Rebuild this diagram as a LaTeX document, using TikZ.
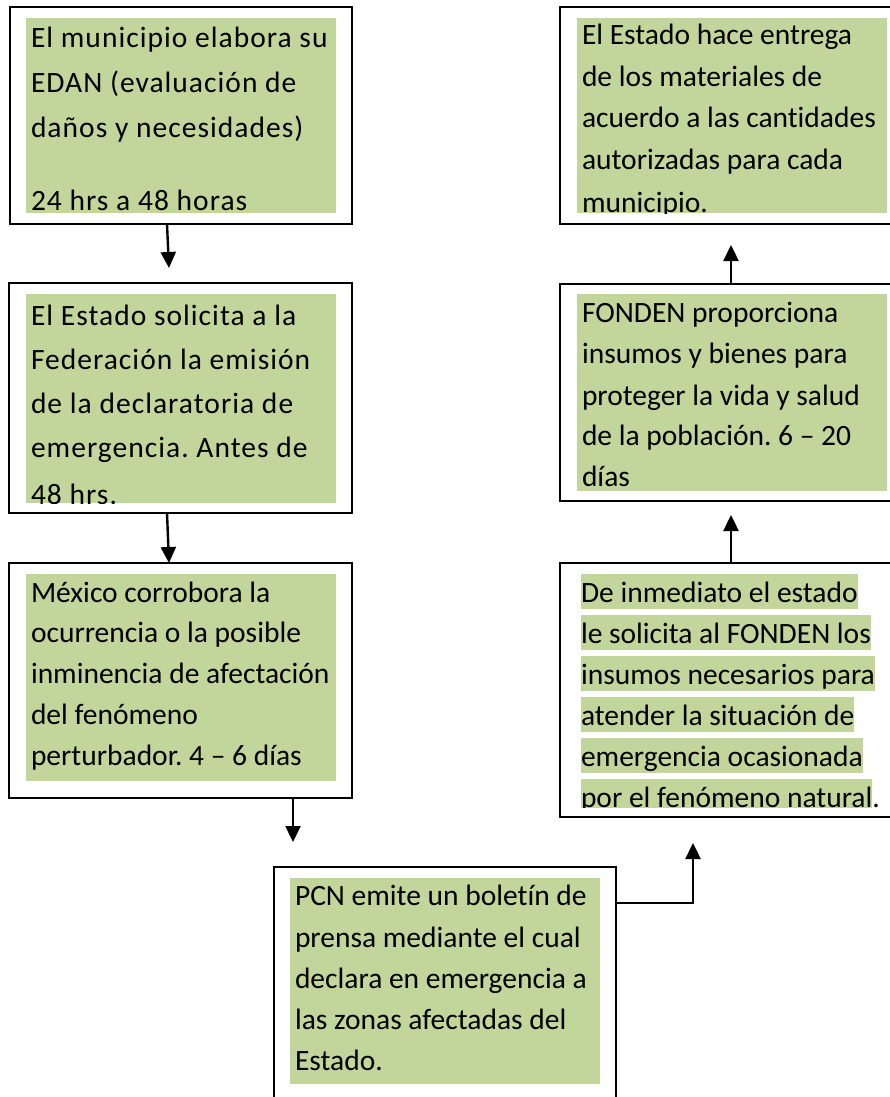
\documentclass[tikz,border=0pt]{standalone}
\usepackage{fontspec}
\setmainfont{Carlito}[Ligatures=NoCommon]
\newfontfamily\widefont{Carlito}[Ligatures=NoCommon,LetterSpace=3.5]
\usetikzlibrary{arrows.meta}
\definecolor{olive}{HTML}{C2D69B}
\frenchspacing
\tikzset{
  box/.style={draw=black, line width=2.4pt, anchor=north west, inner sep=0pt, outer sep=0pt},
  txt/.style={anchor=base west, inner sep=0pt, outer sep=0pt, font=\fontsize{29.5pt}{34pt}\selectfont\frenchspacing},
  wtxt/.style={txt, font=\widefont\fontsize{29.5pt}{34pt}\selectfont\frenchspacing},
  hl/.style={txt, fill=olive, text height=28pt, text depth=7pt},
  arr/.style={line width=2.4pt, -{Triangle[length=16pt,width=15pt]}},
}
\begin{document}
\begin{tikzpicture}[x=1pt,y=-1pt]
\useasboundingbox (0,0) rectangle (890,1097);
\clip (0,0) rectangle (890,1097);
\fill[white] (0,0) rectangle (890,1097);

% ---------- box 1
\node[box, minimum width=342pt, minimum height=217pt] (b1) at (10,7) {};
\fill[olive] (26,18) rectangle (336,213);
\node[wtxt] (b1l1) at (31,48) {El municipio elabora su};
\node[wtxt] (b1l2) at (31,93) {EDAN (evaluación de};
\node[wtxt] (b1l3) at (31,138) {daños y necesidades)};
\node[wtxt] (b1l4) at (31,210) {24 hrs a 48 horas};

% ---------- box 2
\node[box, minimum width=343pt, minimum height=230pt] (b2) at (9,283) {};
\fill[olive] (26,294) rectangle (336,503);
\begin{scope}
\clip (20,290) rectangle (340,503);
\node[wtxt] (b2l1) at (31,325) {El Estado solicita a la};
\node[wtxt] (b2l2) at (31,369) {Federación la emisión};
\node[wtxt] (b2l3) at (31,413) {de la declaratoria de};
\node[wtxt] (b2l4) at (31,457) {emergencia. Antes de};
\node[wtxt] (b2l5) at (31,504) {48 hrs.};
\end{scope}

% ---------- box 3
\node[box, minimum width=343pt, minimum height=235pt] (b3) at (9,563) {};
\fill[olive] (26,574) rectangle (336,781);
\node[txt] (b3l1) at (31,602) {México corrobora la};
\node[txt] (b3l2) at (31,642) {ocurrencia o la posible};
\node[txt] (b3l3) at (31,683) {inminencia de afectación};
\node[txt] (b3l4) at (31,724) {del fenómeno};
\node[txt] (b3l5) at (31,765) {perturbador. 4 – 6 días};

% ---------- box 4
\node[box, minimum width=345pt, minimum height=217pt] (b4) at (560,7) {};
\fill[olive] (577,18) rectangle (887,213);
\begin{scope}
\clip (570,15) rectangle (890,213);
\node[txt] (b4l1) at (582,45) {El Estado hace entrega};
\node[txt] (b4l2) at (582,87) {de los materiales de};
\node[txt] (b4l3) at (582,128) {acuerdo a las cantidades};
\node[txt] (b4l4) at (582,169) {autorizadas para cada};
\node[txt] (b4l5) at (582,212) {municipio.};
\end{scope}

% ---------- box 5
\node[box, minimum width=345pt, minimum height=217pt] (b5) at (560,284) {};
\fill[olive] (577,294) rectangle (887,491);
\node[txt] (b5l1) at (582,322) {FONDEN proporciona};
\node[txt] (b5l2) at (582,363) {insumos y bienes para};
\node[txt] (b5l3) at (582,405) {proteger la vida y salud};
\node[txt] (b5l4) at (582,445) {de la población. 6 – 20};
\node[txt] (b5l5) at (582,486) {días};

% ---------- box 6
\node[box, minimum width=345pt, minimum height=254pt] (b6) at (560,563) {};
\begin{scope}
\clip (565,568) rectangle (890,807.5);
\node[hl] (b6l1) at (581,602) {De inmediato el estado};
\node[hl] (b6l2) at (581,643) {le solicita al FONDEN los};
\node[hl] (b6l3) at (581,684) {insumos necesarios para};
\node[hl] (b6l4) at (581,725) {atender la situación de};
\node[hl] (b6l5) at (581,766) {emergencia ocasionada};
\node[hl] (b6l6) at (581,807) {por el fenómeno natural};
\node[txt, anchor=base west] (b6dot) at (b6l6.base east) {.};
\end{scope}

% ---------- box 7 (PCN)
\node[box, minimum width=342pt, minimum height=243pt] (b7) at (274,867) {};
\fill[olive] (290,878) rectangle (600,1084);
\node[txt] (b7l1) at (295,905) {PCN emite un boletín de};
\node[txt] (b7l2) at (295,947) {prensa mediante el cual};
\node[txt] (b7l3) at (295,988) {declara en emergencia a};
\node[txt] (b7l4) at (295,1029) {las zonas afectadas del};
\node[txt] (b7l5) at (295,1070) {Estado.};

% ---------- connectors
\coordinate (t1) at (169,268);
\coordinate (t3) at (293,842);
\coordinate (t4) at (693,843);
\coordinate (t5) at (731,515);
\coordinate (t6) at (731,245);
\draw[arr] ([xshift=-14pt]b1.south) -- (t1);
\draw[arr] ([xshift=-13.5pt]b2.south) -- ([xshift=-11.5pt]b3.north);
\draw[arr] ([xshift=112.5pt]b3.south) -- (t3);
\draw[arr] ([yshift=-36pt]b7.north east) -| (t4);
\draw[arr] ([xshift=-1.5pt]b6.north) -- (t5);
\draw[arr] ([xshift=-1.5pt]b5.north) -- (t6);
\end{tikzpicture}
\end{document}
